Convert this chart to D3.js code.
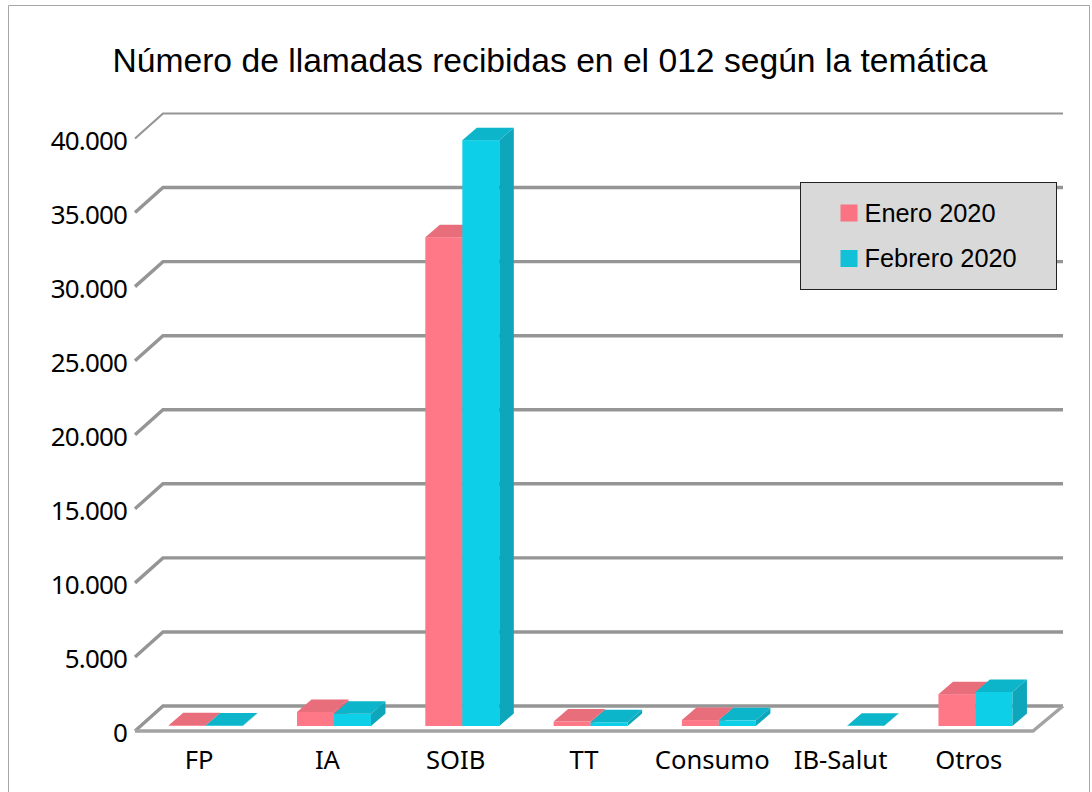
<!DOCTYPE html>
<html>
<head>
<meta charset="utf-8">
<script src="https://cdn.jsdelivr.net/npm/d3@7"></script>
<style>
  html, body { margin: 0; padding: 0; background: #fff; }
  svg { display: block; }
</style>
</head>
<body>
<div id="plot-container"></div>
<script>
// Values
const categories = ["FP", "IA", "SOIB", "TT", "Consumo", "IB-Salut", "Otros"];
const enero = [50, 950, 33000, 300, 400, null, 2150];
const febrero = [40, 830, 39550, 250, 380, 10, 2300];
const seriesNames = ["Enero 2020", "Febrero 2020"];
const yTicks = [0, 5000, 10000, 15000, 20000, 25000, 30000, 35000, 40000];

const series = [
  { name: seriesNames[0], values: enero, front: "#ff7888", top: "#e96e7c", side: "#d96675" },
  { name: seriesNames[1], values: febrero, front: "#10d0e8", top: "#10b5ca", side: "#0fa6ba" }
];

const width = 1092;
const height = 792;

// Floor of the 3D box: front edge, and how far the back wall is shifted
const plot = { left: 135, right: 1033, base: 731, top: 138.5 };
const depth = { dx: 28, dy: 25 };
const barDepth = { dx: 14.5, dy: 12.5 };
const barWidth = 37;

const svg = d3.select("#plot-container")
  .append("svg")
  .attr("width", width)
  .attr("height", height);

const soft = svg.append("defs").append("filter")
  .attr("id", "soft")
  .attr("x", "-5%").attr("y", "-5%")
  .attr("width", "110%").attr("height", "110%");
soft.append("feGaussianBlur").attr("stdDeviation", 0.6);

// Outer frame, open at the bottom
svg.append("path")
  .attr("d", "M8.5,792V5.5H1089.5V792")
  .attr("fill", "none")
  .attr("stroke", "#a6a6a6")
  .attr("stroke-width", 1);

// Scales
const x = d3.scaleBand()
  .domain(categories)
  .range([plot.left, plot.right]);

const y = d3.scaleLinear()
  .domain([0, 40000])
  .range([plot.base, plot.top]);

const thousands = d3.formatLocale({ decimal: ",", thousands: ".", grouping: [3], currency: ["", ""] }).format(",d");

// Gridlines on the back wall and the side wall
const grid = svg.append("g")
  .attr("fill", "none")
  .attr("stroke", "#959595")
  .attr("stroke-width", 3.4)
  .attr("filter", "url(#soft)");

grid.selectAll("path")
  .data(yTicks)
  .enter()
  .append("path")
  .attr("stroke-width", d => d === 40000 ? 2.2 : 3.4)
  .attr("d", d => `M${plot.left},${y(d)}L${plot.left + depth.dx},${y(d) - depth.dy}H${plot.right + depth.dx + 2}`);

// Front and right edge of the floor
grid.append("path")
  .attr("stroke", "#a3a3a3")
  .attr("d", `M${plot.left},${plot.base}H${plot.right}L${plot.right + depth.dx + 2},${plot.base - depth.dy}`);

// Bars: front face, top and side, sitting in the middle of the floor
const bars = svg.append("g").attr("filter", "url(#soft)");
const floorShift = { dx: 6.6, dy: 5 };

categories.forEach((c, i) => {
  series.forEach((s, k) => {
    const v = s.values[i];
    if (v === null) return;
    const x0 = x(c) + x.bandwidth() / 2 + floorShift.dx - barWidth + k * barWidth;
    const x1 = x0 + barWidth;
    const yBase = y(0) - floorShift.dy;
    const yTop = y(v) - floorShift.dy;
    const g = bars.append("g");
    g.append("rect")
      .attr("x", x0)
      .attr("y", yTop)
      .attr("width", barWidth)
      .attr("height", yBase - yTop)
      .attr("fill", s.front);
    g.append("path")
      .attr("d", `M${x0},${yTop}L${x0 + barDepth.dx},${yTop - barDepth.dy}H${x1 + barDepth.dx}L${x1},${yTop}Z`)
      .attr("fill", s.top);
    g.append("path")
      .attr("d", `M${x1},${yTop}L${x1 + barDepth.dx},${yTop - barDepth.dy}V${yBase - barDepth.dy}L${x1},${yBase}Z`)
      .attr("fill", s.side);
  });
});

// Axes
const yAxis = svg.append("g")
  .attr("transform", `translate(${plot.left - 8},1.5)`)
  .call(d3.axisLeft(y).tickValues(yTicks).tickFormat(thousands).tickSize(0).tickPadding(0));
yAxis.select(".domain").remove();
yAxis.selectAll("text")
  .attr("fill", "#000")
  .style("font-family", "'Noto Sans'")
  .style("font-size", "26px")
  .style("letter-spacing", "-0.85px")
  .attr("dy", "0.36em");

const xAxis = svg.append("g")
  .attr("transform", `translate(0,${plot.base})`)
  .call(d3.axisBottom(x).tickSize(0).tickPadding(19.5));
xAxis.select(".domain").remove();
xAxis.selectAll("text")
  .attr("fill", "#000")
  .style("font-family", "'Noto Sans'")
  .style("font-size", "25.6px");

// Title
svg.append("text")
  .attr("x", 550)
  .attr("y", 72)
  .attr("text-anchor", "middle")
  .style("font-family", "'Liberation Sans'")
  .style("font-size", "33.65px")
  .text("Número de llamadas recibidas en el 012 según la temática");

// Legend
const legend = svg.append("g");
legend.append("rect")
  .attr("x", 800.5)
  .attr("y", 182.5)
  .attr("width", 256)
  .attr("height", 107)
  .attr("fill", "#d9d9d9")
  .attr("stroke", "#222")
  .attr("stroke-width", 1);

const legendRows = legend.selectAll("g.row")
  .data(series)
  .enter()
  .append("g")
  .attr("class", "row")
  .attr("transform", (d, i) => `translate(840.5,${204.5 + i * 45.5})`);

legendRows.append("rect")
  .attr("width", 17)
  .attr("height", 17)
  .attr("fill", (d, i) => i === 0 ? "#f97383" : "#12c0d8");

legendRows.append("text")
  .attr("x", 24)
  .attr("y", 17)
  .style("font-family", "'Liberation Sans'")
  .style("font-size", "25.35px")
  .text(d => d.name);
</script>
</body>
</html>
